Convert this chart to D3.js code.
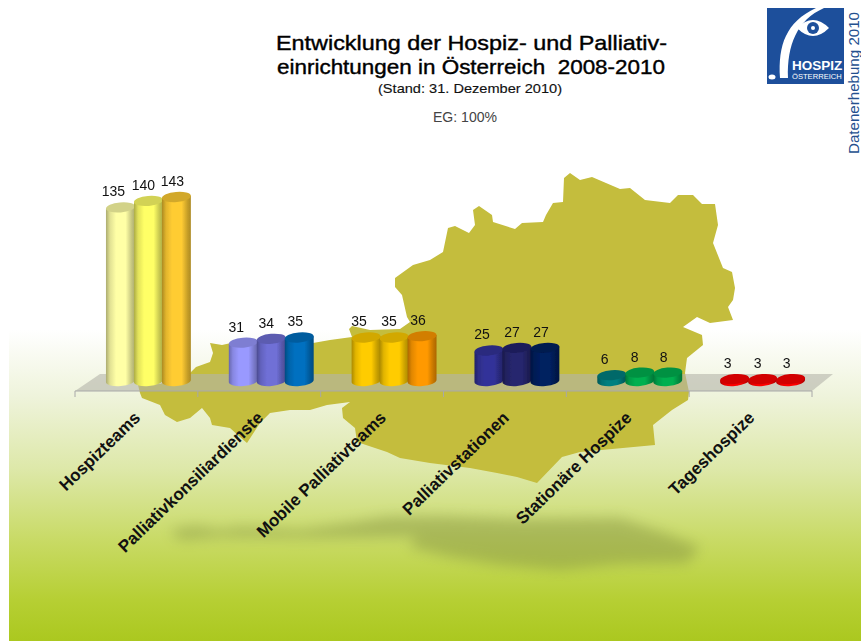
<!DOCTYPE html>
<html><head><meta charset="utf-8">
<script src="https://cdn.jsdelivr.net/npm/d3@7"></script>
<style>html,body{margin:0;padding:0;background:#fff;overflow:hidden}svg{display:block}text{font-family:"Liberation Sans",Arial,sans-serif}</style>
</head><body><div id="c"></div>
<script>
const categories=["Hospizteams","Palliativkonsiliardienste","Mobile Palliativteams","Palliativstationen","Stationäre Hospize","Tageshospize"];
const years=["2008","2009","2010"];
const values2008=[135,31,35,25,6,3];
const values2009=[140,34,35,27,8,3];
const values2010=[143,35,36,27,8,3];
const colors2008=["#ffffa6","#9999ff","#ffcc00","#333399","#008080","#ff0000"];
const colors2009=["#ffff66","#6f6fd6","#ffcc00","#26266e","#00b050","#ff0000"];
const colors2010=["#ffcc33","#0070c0","#ff9900","#002060","#00b050","#ff0000"];
const titleLines=["Entwicklung der Hospiz- und Palliativ-","einrichtungen in Österreich\u00a0\u00a02008-2010"];
const subtitle="(Stand: 31. Dezember 2010)";
const note="EG: 100%";
const sideNote="Datenerhebung 2010";
const mapOutline=[[138,385],[160,384],[190,373],[196,367],[210,362],[213,353],[210,343],[222,345],[240,341],[313,343],[330,340],[352,337],[349,329],[352,326],[370,330],[400,329],[410,322],[407,317],[402,295],[395,287],[395,278],[413,265],[430,260],[443,252],[448,228],[455,226],[469,233],[475,225],[473,210],[479,206],[492,215],[493,222],[515,229],[522,223],[543,222],[546,215],[553,203],[563,202],[564,178],[570,173],[580,180],[592,177],[620,189],[630,188],[645,200],[670,203],[678,195],[693,195],[702,204],[715,204],[718,225],[713,243],[723,268],[732,272],[735,288],[733,300],[728,307],[733,320],[710,323],[697,317],[683,327],[702,335],[703,345],[687,358],[685,373],[689,392],[688,400],[672,410],[653,425],[655,445],[580,452],[562,457],[537,483],[517,477],[497,473],[470,468],[430,463],[400,458],[387,452],[357,442],[355,428],[343,418],[342,408],[350,402],[327,405],[310,410],[290,410],[270,413],[260,423],[247,443],[240,437],[230,428],[212,425],[210,418],[202,408],[190,418],[177,422],[165,415],[160,405],[142,398],[140,393]];
const shadowOutline=[[170,530],[195,526],[220,530],[240,527],[300,530],[357,522],[385,517],[440,516],[520,519],[620,518],[665,533],[700,547],[687,563],[620,564],[560,570],[500,565],[450,557],[409,547],[417,537],[300,538],[220,537],[180,540]];
const W=861,H=641;
const svg=d3.select("#c").append("svg").attr("width",W).attr("height",H);
const defs=svg.append("defs");
const bg=defs.append("linearGradient").attr("id","bg").attr("x1",0).attr("x2",0).attr("y1",0).attr("y2",1);
[[0,"#ffffff"],[.22,"#eef3da"],[.45,"#dde8a8"],[.68,"#c8da64"],[.87,"#b6cf33"],[1,"#abc81f"]].forEach(d=>bg.append("stop").attr("offset",d[0]).attr("stop-color",d[1]));
defs.append("filter").attr("id","blurS").attr("x","-10%").attr("y","-40%").attr("width","120%").attr("height","180%").append("feGaussianBlur").attr("stdDeviation",6.5);
defs.append("filter").attr("id","soft").attr("x","-5%").attr("y","-5%").attr("width","110%").attr("height","110%").append("feGaussianBlur").attr("stdDeviation",0.5);
svg.append("rect").attr("x",9).attr("y",330).attr("width",W-9).attr("height",H-330).attr("fill","url(#bg)");
const poly=d3.line().curve(d3.curveLinearClosed);
svg.append("path").attr("d",poly(shadowOutline)).attr("fill","#7d8a3c").attr("opacity",.42).attr("filter","url(#blurS)");
svg.append("path").attr("d",poly(mapOutline)).attr("fill","#c4bd3c").attr("filter","url(#soft)");
const x=d3.scaleBand().domain(categories).range([75,812]);
const y=d3.scaleLinear().domain([0,143]).range([383,197]);
const baseY=381,floorY=391,floorTop=374,depth=12;
svg.append("path").attr("d",poly([[x.range()[0],floorY],[x.range()[1],floorY],[x.range()[1]+21,floorTop],[x.range()[0]+25,floorTop]])).attr("fill","rgb(180,180,170)").attr("opacity",.6);
svg.append("g").attr("transform",`translate(0,${floorY})`).call(g=>{
  g.append("line").attr("x1",x.range()[0]).attr("x2",x.range()[1]).attr("stroke","#a8a8a8");
  const edges=[...categories.map(c=>x(c)),x.range()[1]];
  g.selectAll("line.t").data(edges).join("line").attr("class","t").attr("x1",d=>d).attr("x2",d=>d).attr("y1",0).attr("y2",6).attr("stroke","#a8a8a8");
});
const inner=d3.scaleBand().domain(years).range([x.bandwidth()/2+depth-42,x.bandwidth()/2+depth+42]);
const rx=14.5,ry=5,tilt=-5;
const seriesV=[values2008,values2009,values2010],seriesC=[colors2008,colors2009,colors2010];
const labelShift=[-7,-5,-4];
const bars=svg.append("g").attr("filter","url(#soft)");
const labels=svg.append("g");
categories.forEach((cat,ci)=>{
  years.forEach((yr,si)=>{
    const v=seriesV[si][ci],c=seriesC[si][ci];
    const cx=x(cat)+inner(yr)+inner.bandwidth()/2,top=y(v);
    const id=`g${ci}_${si}`;
    const gr=defs.append("linearGradient").attr("id",id);
    const col=d3.color(c);
    [[0,col.darker(1.1)],[.14,col.darker(.35)],[.35,col],[.68,col],[.88,col.darker(.7)],[1,col.darker(1.1)]].forEach(s=>gr.append("stop").attr("offset",s[0]).attr("stop-color",s[1]));
    const a=tilt*Math.PI/180,dx=rx*Math.cos(a),dy=rx*Math.sin(a);
    bars.append("path").attr("d",`M${cx-dx},${top-dy}L${cx-dx},${baseY-dy}A${rx},${ry} ${tilt} 0 0 ${cx+dx},${baseY+dy}L${cx+dx},${top+dy}Z`).attr("fill",`url(#${id})`);
    bars.append("ellipse").attr("cx",cx).attr("cy",top).attr("rx",rx).attr("ry",ry).attr("transform",`rotate(${tilt} ${cx} ${top})`).attr("fill",col.darker(.55));
    labels.append("text").attr("x",cx+labelShift[si]).attr("y",top-11).attr("text-anchor","middle").attr("font-size",14).attr("fill","#111").text(v);
  });
});
const catG=svg.append("g");
categories.forEach(cat=>{
  const ax=x(cat)+x.bandwidth()/2+5;
  catG.append("text").attr("transform",`translate(${ax},419) rotate(-44)`).attr("text-anchor","end").attr("font-size",17).attr("font-weight","bold").attr("fill","#111").text(cat);
});
const stretched=(tx,ty,txt,size,len,fill,sw)=>svg.append("text").attr("x",tx).attr("y",ty).attr("font-size",size).attr("textLength",len).attr("lengthAdjust","spacingAndGlyphs").attr("fill",fill).attr("stroke",sw?fill:"none").attr("stroke-width",sw||0).text(txt);
stretched(276,50,titleLines[0],21,391,"#000",.4);
stretched(277,74,titleLines[1],21,388,"#000",.4);
stretched(378,93,subtitle,13.5,184,"#111",.15);
stretched(433,122,note,14,64,"#444",0);
svg.append("text").attr("transform","translate(859,154) rotate(-90)").attr("font-size",14).attr("textLength",142).attr("lengthAdjust","spacingAndGlyphs").attr("fill","#24508f").text(sideNote);
const logo=svg.append("g");
logo.append("rect").attr("x",767).attr("y",8).attr("width",77).attr("height",76).attr("fill","#1d4f9b");
logo.append("path").attr("d","M780,78C778,45 786,22 816,8L824,8C797,20 787,45 788,78Z").attr("fill","#fff");
logo.append("ellipse").attr("cx",772).attr("cy",77).attr("rx",3.5).attr("ry",2.5).attr("fill","#fff");
logo.append("path").attr("d","M797,28Q813,12 829,28Q813,44 797,28Z").attr("fill","#fff");
logo.append("circle").attr("cx",813).attr("cy",28).attr("r",6).attr("fill","#1d4f9b");
logo.append("circle").attr("cx",813).attr("cy",28).attr("r",2).attr("fill","#fff");
logo.append("text").attr("x",792).attr("y",70).attr("font-size",13.5).attr("font-weight","bold").attr("fill","#fff").text("HOSPIZ");
logo.append("text").attr("x",792).attr("y",79).attr("font-size",7.6).attr("fill","#fff").text("ÖSTERREICH");
</script></body></html>
